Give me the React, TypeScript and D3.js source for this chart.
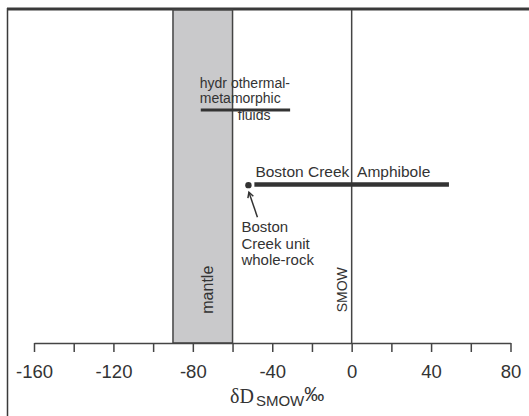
import React, { useEffect, useRef } from "react";
import * as d3 from "d3";

// x axis (δD, per mil)
const xDomain = [-160, 80];
const xTicks = [-160, -140, -120, -100, -80, -60, -40, -20, 0, 20, 40, 60, 80];
const xTickLabels = [-160, -120, -80, -40, 0, 40, 80];

// reference ranges
const mantleRange = [-90, -60];
const smowValue = 0;

// horizontal ranges: [from, to], level on a 0..1 vertical scale
const fluidRange = [-76, -31];
const fluidLevel = 0.7;
const amphiboleRange = [-49, 49];
const amphiboleLevel = 0.476;

// single point
const wholeRockValue = -52;
const wholeRockLevel = 0.474;

const fluidLabel = ["hydr othermal-", "metamorphic", "fluids"];
const amphiboleLabel = "Boston Creek  Amphibole";
const wholeRockLabel = ["Boston", "Creek unit", "whole-rock"];

const INK = "#333";
const SANS = "'Liberation Sans', Arial, Helvetica, sans-serif";

function Chart() {
  const ref = useRef(null);

  useEffect(() => {
    const width = 529;
    const height = 416;
    const margin = { top: 10, right: 18.5, bottom: 73, left: 34 };
    const axisY = height - margin.bottom;

    const x = d3
      .scaleLinear()
      .domain(xDomain)
      .range([margin.left, width - margin.right]);
    const y = d3.scaleLinear().domain([0, 1]).range([axisY, margin.top]);

    const root = d3.select(ref.current);
    root.selectAll("*").remove();
    const svg = root
      .append("svg")
      .attr("width", width)
      .attr("height", height)
      .attr("viewBox", [0, 0, width, height])
      .style("display", "block")
      .style("background", "#fff")
      .attr("font-family", SANS);

    // frame: heavy top rule, thin left rule
    svg
      .append("line")
      .attr("x1", 7)
      .attr("x2", width)
      .attr("y1", 9)
      .attr("y2", 9)
      .attr("stroke", "#3a3a3a")
      .attr("stroke-width", 3);
    svg
      .append("line")
      .attr("x1", 7.5)
      .attr("x2", 7.5)
      .attr("y1", 8)
      .attr("y2", height)
      .attr("stroke", "#3a3a3a")
      .attr("stroke-width", 1.5);

    // mantle band
    svg
      .append("rect")
      .attr("x", x(mantleRange[0]))
      .attr("y", y(1))
      .attr("width", x(mantleRange[1]) - x(mantleRange[0]))
      .attr("height", y(0) - y(1))
      .attr("fill", "#c9c9cb")
      .attr("stroke", "#444")
      .attr("stroke-width", 1.5);
    svg
      .append("text")
      .attr(
        "transform",
        `translate(${(x(mantleRange[0]) + x(mantleRange[1])) / 2 + 10},${y(0.16)}) rotate(-90)`
      )
      .attr("text-anchor", "middle")
      .attr("font-size", 16)
      .attr("fill", INK)
      .text("mantle");

    // SMOW line
    svg
      .append("line")
      .attr("x1", x(smowValue))
      .attr("x2", x(smowValue))
      .attr("y1", y(1))
      .attr("y2", y(0))
      .attr("stroke", "#444")
      .attr("stroke-width", 1.5);
    svg
      .append("text")
      .attr("transform", `translate(${x(smowValue) - 5},${y(0.16)}) rotate(-90)`)
      .attr("text-anchor", "middle")
      .attr("font-size", 14)
      .attr("fill", INK)
      .text("SMOW");

    // x axis
    const axis = svg
      .append("g")
      .attr("transform", `translate(0,${axisY})`)
      .call(
        d3
          .axisBottom(x)
          .tickValues(xTicks)
          .tickSize(9)
          .tickSizeOuter(0)
          .tickPadding(13)
          .tickFormat((d) => (xTickLabels.includes(d) ? String(d) : ""))
      );
    axis.selectAll("path, line").attr("stroke", "#444").attr("stroke-width", 1.5);
    axis
      .selectAll("text")
      .attr("fill", INK)
      .attr("font-size", 18.5)
      .attr("font-family", SANS);

    const title = svg
      .append("text")
      .attr("x", 230)
      .attr("y", 403)
      .attr("fill", INK);
    title
      .append("tspan")
      .attr("font-family", "'Liberation Serif', 'Times New Roman', serif")
      .attr("font-size", 20)
      .text("δD");
    title
      .append("tspan")
      .attr("font-size", 15)
      .attr("dx", 2)
      .attr("dy", 3)
      .text("SMOW");
    title
      .append("tspan")
      .attr("font-size", 20)
      .attr("dy", -5)
      .text("‰");

    // hydrothermal-metamorphic fluids
    svg
      .append("line")
      .attr("x1", x(fluidRange[0]))
      .attr("x2", x(fluidRange[1]))
      .attr("y1", y(fluidLevel))
      .attr("y2", y(fluidLevel))
      .attr("stroke", INK)
      .attr("stroke-width", 3);
    const fluidText = svg
      .append("text")
      .attr("font-size", 14)
      .attr("fill", INK)
      .style("white-space", "pre");
    fluidLabel.forEach((t, i) => {
      fluidText
        .append("tspan")
        .attr("x", i === 2 ? x(fluidRange[0]) + 37 : x(fluidRange[0]) - 1)
        .attr("y", y(fluidLevel) + [-21.5, -6.5, 10][i])
        .text(t);
    });

    // Boston Creek amphibole
    svg
      .append("line")
      .attr("x1", x(amphiboleRange[0]))
      .attr("x2", x(amphiboleRange[1]))
      .attr("y1", y(amphiboleLevel))
      .attr("y2", y(amphiboleLevel))
      .attr("stroke", INK)
      .attr("stroke-width", 4.5);
    svg
      .append("text")
      .attr("x", x(amphiboleRange[0]) + 1)
      .attr("y", y(amphiboleLevel) - 7)
      .attr("font-size", 15.5)
      .attr("fill", INK)
      .style("white-space", "pre")
      .text(amphiboleLabel);

    // whole-rock point with arrow
    const px = x(wholeRockValue);
    const py = y(wholeRockLevel);
    svg
      .append("circle")
      .attr("cx", px)
      .attr("cy", py)
      .attr("r", 3.2)
      .attr("fill", INK);

    const ax0 = px + 9;
    const ay0 = py + 32;
    const ax1 = px + 0.5;
    const ay1 = py + 7;
    const ang = Math.atan2(ay1 - ay0, ax1 - ax0);
    const head = 6;
    const spread = 0.5;
    svg
      .append("line")
      .attr("x1", ax0)
      .attr("y1", ay0)
      .attr("x2", ax1)
      .attr("y2", ay1)
      .attr("stroke", INK)
      .attr("stroke-width", 1.5);
    svg
      .append("path")
      .attr(
        "d",
        `M${ax1 - head * Math.cos(ang - spread)},${ay1 - head * Math.sin(ang - spread)}` +
          `L${ax1},${ay1}` +
          `L${ax1 - head * Math.cos(ang + spread)},${ay1 - head * Math.sin(ang + spread)}`
      )
      .attr("fill", "none")
      .attr("stroke", INK)
      .attr("stroke-width", 1.5);

    const rockText = svg.append("text").attr("font-size", 15).attr("fill", INK);
    wholeRockLabel.forEach((t, i) => {
      rockText
        .append("tspan")
        .attr("x", px - 7)
        .attr("y", py + 47 + i * 16.5)
        .text(t);
    });
  }, []);

  return <div ref={ref} style={{ position: "absolute", left: 0, top: 0 }} />;
}

export default function App() {
  return <Chart />;
}
